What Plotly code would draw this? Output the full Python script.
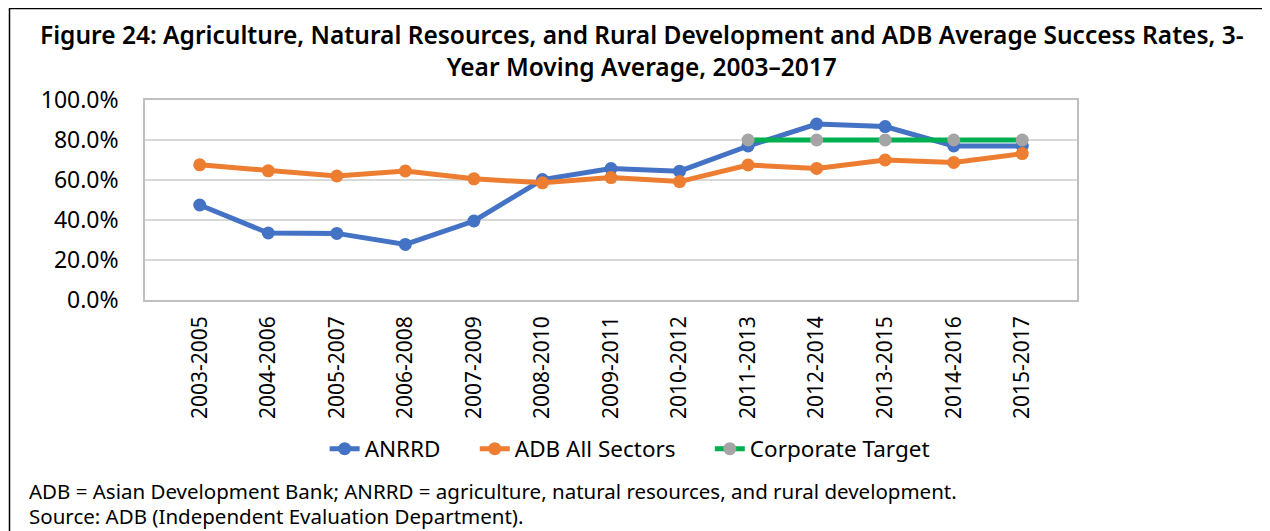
import plotly.graph_objects as go

periods = ["2003-2005", "2004-2006", "2005-2007", "2006-2008", "2007-2009",
           "2008-2010", "2009-2011", "2010-2012", "2011-2013", "2012-2014",
           "2013-2015", "2014-2016", "2015-2017"]
anrrd = [47.5, 33.5, 33.3, 27.8, 39.5, 60.2, 65.7, 64.4, 77.0, 88.0, 86.7, 77.0, 77.0]
adb_all = [67.6, 64.6, 62.0, 64.5, 60.6, 58.6, 61.2, 59.2, 67.5, 65.8, 70.0, 68.8, 73.2]
target = [None, None, None, None, None, None, None, None, 80.0, 80.0, 80.0, 80.0, 80.0]

FONT = "Noto Sans"
PAD = "\u00a0" * 5

fig = go.Figure()
fig.add_trace(go.Scatter(x=periods, y=anrrd, name="ANRRD" + PAD, mode="lines+markers",
                         line=dict(color="#4472C4", width=5),
                         marker=dict(color="#4472C4", size=13)))
fig.add_trace(go.Scatter(x=periods, y=adb_all, name="ADB All Sectors" + PAD, mode="lines+markers",
                         line=dict(color="#ED7D31", width=5),
                         marker=dict(color="#ED7D31", size=13)))
fig.add_trace(go.Scatter(x=periods, y=target, name="Corporate Target", mode="lines+markers",
                         line=dict(color="#00B050", width=5),
                         marker=dict(color="#A5A5A5", size=13)))

W, H = 1262, 523
fig.update_layout(
    width=W, height=H,
    margin=dict(l=137, r=193, t=92, b=231),
    paper_bgcolor="white", plot_bgcolor="white",
    font=dict(family=FONT, color="black"),
    showlegend=True,
    legend=dict(orientation="h", x=0.52, xanchor="center", y=-0.745, yanchor="middle",
                font=dict(family=FONT, size=22.5, color="black"),
                tracegroupgap=0, bgcolor="rgba(0,0,0,0)"),
)
fig.update_xaxes(type="category", tickangle=-90, showgrid=False,
                 showline=True, linecolor="#BFBFBF", linewidth=1.5, mirror=True,
                 ticks="", tickfont=dict(family=FONT, size=21, color="black"),
                 ticklabelstandoff=6)
fig.update_yaxes(range=[0, 100], dtick=20, tickformat=".1f", ticksuffix="%",
                 showgrid=True, gridcolor="#D9D9D9", gridwidth=1.5,
                 showline=True, linecolor="#BFBFBF", linewidth=1.5, mirror=True,
                 zeroline=False, ticks="",
                 tickfont=dict(family=FONT, size=23, color="black"),
                 ticklabelstandoff=20)

# title (two centred lines)
fig.add_annotation(text="Figure 24: Agriculture, Natural Resources, and Rural Development and ADB Average Success Rates, 3-<br>Year Moving Average, 2003\u20132017",
                   xref="paper", yref="paper", x=(642 - 145) / 932, y=(300 - 50) / 200,
                   xanchor="center", yanchor="middle", align="center", showarrow=False,
                   font=dict(family=FONT, size=24.5, color="black", weight=600))

fig.add_annotation(text="ADB = Asian Development Bank; ANRRD = agriculture, natural resources, and rural development.",
                   xref="paper", yref="paper", x=(27 - 145) / 932, y=(300 - 491) / 200,
                   xanchor="left", yanchor="middle", showarrow=False,
                   font=dict(family=FONT, size=20.5, color="black"))
fig.add_annotation(text="Source: ADB (Independent Evaluation Department).",
                   xref="paper", yref="paper", x=(27 - 145) / 932, y=(300 - 516) / 200,
                   xanchor="left", yanchor="middle", showarrow=False,
                   font=dict(family=FONT, size=20.5, color="black"))

# outer frame
fig.add_shape(type="rect", xref="paper", yref="paper",
              x0=(1.5 - 137) / 932, x1=(1290 - 137) / 932,
              y0=(292 - 560) / 200, y1=(292 - 0.5) / 200,
              line=dict(color="black", width=1.5), fillcolor="rgba(0,0,0,0)", layer="above")

fig.write_html("out.html")
